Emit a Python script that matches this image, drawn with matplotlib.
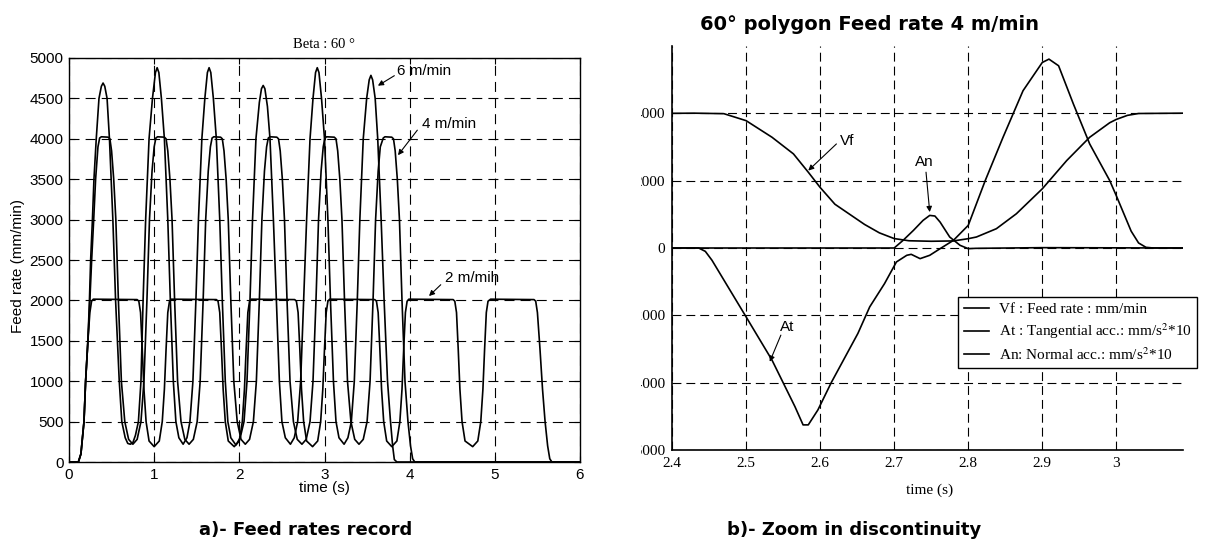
import matplotlib
matplotlib.use('Agg')
import matplotlib.pyplot as plt
from matplotlib.transforms import Bbox, TransformedBbox

# a) feed rate records (time s, feed rate mm/min)
t_6 = [0.0, 0.11, 0.14, 0.176, 0.195, 0.222, 0.24, 0.254, 0.275, 0.293, 0.32, 0.352, 0.38, 0.40, 0.42,
       0.447, 0.475, 0.515, 0.547, 0.59, 0.62, 0.66, 0.69, 0.72, 0.75,
       0.78, 0.815, 0.845, 0.87, 0.90, 0.94, 0.98, 1.015, 1.035, 1.055,
       1.085, 1.12, 1.16, 1.19, 1.225, 1.255, 1.29, 1.34,
       1.385, 1.42, 1.455, 1.49, 1.52, 1.56, 1.595, 1.625, 1.645, 1.665,
       1.695, 1.73, 1.77, 1.80, 1.835, 1.865, 1.90, 1.96,
       2.01, 2.055, 2.09, 2.125, 2.155, 2.195, 2.235, 2.26, 2.28, 2.30,
       2.33, 2.36, 2.40, 2.435, 2.47, 2.50, 2.54, 2.60,
       2.645, 2.685, 2.72, 2.755, 2.79, 2.83, 2.865, 2.895, 2.915, 2.935,
       2.965, 3.0, 3.04, 3.07, 3.105, 3.135, 3.17, 3.23,
       3.275, 3.315, 3.35, 3.385, 3.415, 3.455, 3.495, 3.525, 3.545, 3.565,
       3.595, 3.625, 3.665, 3.70, 3.74, 3.775, 3.80, 3.82, 3.85, 6.0]
v_6 = [0, 0, 100, 500, 1000, 1500, 2000, 2500, 3000, 3500, 4000, 4500, 4650, 4690, 4650,
       4500, 4000, 3000, 2000, 1000, 500, 300, 230, 220, 240,
       330, 500, 1000, 2000, 3000, 4000, 4500, 4820, 4880, 4820,
       4500, 4000, 3000, 2000, 1000, 500, 300, 220,
       300, 500, 1000, 2000, 3000, 4000, 4500, 4820, 4880, 4820,
       4500, 4000, 3000, 2000, 1000, 500, 300, 210,
       300, 500, 1000, 2000, 3000, 4000, 4450, 4620, 4660, 4620,
       4400, 4000, 3000, 2000, 1000, 500, 300, 220,
       300, 500, 1000, 2000, 3000, 4000, 4500, 4820, 4880, 4820,
       4500, 4000, 3000, 2000, 1000, 500, 300, 220,
       300, 500, 1000, 2000, 3000, 4000, 4500, 4730, 4785, 4730,
       4500, 4000, 3000, 2000, 1000, 500, 200, 30, 0, 0]

t_4 = [0.0, 0.11, 0.14, 0.176, 0.195, 0.222, 0.245, 0.266, 0.29, 0.3125, 0.34, 0.36, 0.38, 0.46, 0.48,
       0.50, 0.525, 0.55, 0.58, 0.615, 0.655, 0.70, 0.75,
       0.80, 0.845, 0.88, 0.915, 0.945, 0.975, 1.0, 1.02, 1.04, 1.12, 1.14,
       1.16, 1.185, 1.21, 1.24, 1.275, 1.315, 1.36, 1.41,
       1.46, 1.505, 1.54, 1.575, 1.605, 1.635, 1.66, 1.68, 1.70, 1.78, 1.80,
       1.82, 1.845, 1.87, 1.90, 1.935, 1.975, 2.02, 2.07,
       2.12, 2.165, 2.20, 2.235, 2.265, 2.295, 2.32, 2.34, 2.36, 2.44, 2.46,
       2.48, 2.505, 2.53, 2.56, 2.595, 2.635, 2.68, 2.735,
       2.785, 2.83, 2.865, 2.90, 2.93, 2.96, 2.985, 3.005, 3.025, 3.115, 3.135,
       3.155, 3.18, 3.205, 3.235, 3.27, 3.31, 3.355, 3.405,
       3.455, 3.50, 3.535, 3.57, 3.60, 3.63, 3.655, 3.69, 3.71, 3.79, 3.81,
       3.83, 3.855, 3.88, 3.91, 3.945, 3.98, 4.01, 4.035, 4.06, 6.0]
v_4 = [0, 0, 100, 500, 1000, 1500, 2000, 2500, 3000, 3500, 3900, 4010, 4025, 4020, 4000,
       3850, 3500, 3000, 2000, 1000, 500, 280, 220,
       280, 500, 1000, 2000, 3000, 3600, 3900, 4010, 4025, 4020, 4000,
       3850, 3500, 3000, 2000, 1000, 500, 280, 220,
       280, 500, 1000, 2000, 3000, 3600, 3900, 4010, 4025, 4020, 4000,
       3850, 3500, 3000, 2000, 1000, 500, 280, 220,
       280, 500, 1000, 2000, 3000, 3600, 3900, 4010, 4025, 4020, 4000,
       3850, 3500, 3000, 2000, 1000, 500, 280, 220,
       280, 500, 1000, 2000, 3000, 3600, 3900, 4010, 4025, 4020, 4000,
       3850, 3500, 3000, 2000, 1000, 500, 280, 220,
       280, 500, 1000, 2000, 3000, 3600, 3900, 4010, 4025, 4020, 4000,
       3850, 3500, 3000, 2000, 1000, 500, 200, 40, 0, 0]

t_2 = [0.0, 0.11, 0.14, 0.176, 0.195, 0.222, 0.245, 0.265, 0.285, 0.80, 0.82,
       0.84, 0.86, 0.88, 0.905, 0.94, 1.0, 1.06, 1.095, 1.12, 1.14, 1.16, 1.18, 1.20, 1.73, 1.75,
       1.77, 1.79, 1.81, 1.835, 1.87, 1.94, 2.0, 2.035, 2.06, 2.08, 2.10, 2.12, 2.14, 2.65, 2.67,
       2.69, 2.71, 2.73, 2.755, 2.79, 2.86, 2.92, 2.955, 2.98, 3.0, 3.02, 3.04, 3.06, 3.59, 3.61,
       3.63, 3.65, 3.67, 3.695, 3.73, 3.79, 3.85, 3.885, 3.91, 3.93, 3.95, 3.97, 3.99, 4.51, 4.53,
       4.55, 4.57, 4.59, 4.615, 4.65, 4.74, 4.80, 4.835, 4.86, 4.88, 4.90, 4.92, 4.95, 5.46, 5.48,
       5.50, 5.53, 5.56, 5.59, 5.62, 5.645, 5.67, 6.0]
v_2 = [0, 0, 100, 500, 1000, 1500, 1850, 1990, 2015, 2010, 1990,
       1850, 1400, 900, 500, 260, 190, 260, 500, 900, 1400, 1850, 1990, 2015, 2010, 1990,
       1850, 1400, 900, 500, 260, 190, 260, 500, 900, 1400, 1850, 1990, 2015, 2010, 1990,
       1850, 1400, 900, 500, 260, 190, 260, 500, 900, 1400, 1850, 1990, 2015, 2010, 1990,
       1850, 1400, 900, 500, 260, 190, 260, 500, 900, 1400, 1850, 1990, 2015, 2010, 1990,
       1850, 1400, 900, 500, 260, 190, 260, 500, 900, 1400, 1850, 1990, 2015, 2010, 1990,
       1850, 1400, 900, 500, 200, 40, 0, 0]

# b) zoom on one corner at 4 m/min
t_vf = [2.40, 2.43, 2.47, 2.50, 2.535, 2.564, 2.584, 2.60, 2.62, 2.64, 2.66, 2.68, 2.70, 2.72, 2.75,
        2.78, 2.80, 2.811, 2.838, 2.865, 2.90, 2.933, 2.964, 2.991, 3.0, 3.015, 3.03, 3.09]
v_vf = [4000, 4005, 3990, 3783, 3290, 2795, 2252, 1800, 1300, 1000, 700, 450, 280, 215, 200,
        210, 277, 326, 573, 1017, 1758, 2598, 3289, 3720, 3820, 3940, 3995, 4005]

t_at = [2.40, 2.436, 2.445, 2.454, 2.50, 2.535, 2.566, 2.577, 2.584, 2.597, 2.615, 2.651, 2.667, 2.687,
        2.703, 2.717, 2.723, 2.735, 2.748, 2.762, 2.78, 2.80, 2.823, 2.847, 2.874, 2.90, 2.909, 2.922,
        2.942, 2.964, 2.991, 3.0, 3.02, 3.03, 3.04, 3.05, 3.09]
v_at = [0, 0, -100, -365, -2044, -3328, -4711, -5254, -5254, -4810, -4000, -2538, -1748, -1057,
        -415, -217, -188, -316, -217, -20, 227, 672, 2005, 3289, 4672, 5511, 5610, 5413,
        4277, 3091, 2005, 1550, 500, 150, 20, 0, 0]

t_an = [2.40, 2.70, 2.712, 2.726, 2.739, 2.748, 2.755, 2.762, 2.775, 2.789, 2.80, 2.81, 2.90, 3.09]
v_an = [0, 0, 227, 523, 820, 968, 950, 770, 326, 79, -20, -10, 10, 0]

xt_b = [2.4, 2.5, 2.6, 2.7, 2.8, 2.9, 3.0]
xt_b_labels = ['2.4', '2.5', '2.6', '2.7', '2.8', '2.9', '3']
yt_b = [-6000, -4000, -2000, 0, 2000, 4000]

sans = ['Liberation Sans', 'DejaVu Sans']
serif = ['Liberation Serif', 'DejaVu Serif']
plt.rcParams['mathtext.fontset'] = 'stix'

fig = plt.figure(figsize=(12.06, 5.48), dpi=100)
W, H = 1206.0, 548.0

# ---- left panel
ax1 = fig.add_axes([69 / W, (H - 462) / H, 511 / W, 404 / H])
for t, v in [(t_2, v_2), (t_4, v_4), (t_6, v_6)]:
    ax1.plot(t, v, color='k', lw=1.2)
ax1.set_xlim(0, 6)
ax1.set_ylim(0, 5000)
ax1.set_xticks(range(0, 7))
ax1.set_yticks(range(0, 5001, 500))
ax1.grid(True, color='k', lw=0.8, linestyle=(0, (9, 5.5)))
ax1.tick_params(direction='in', length=4, top=True, right=True, pad=4, labelsize=11)
for lab in ax1.get_xticklabels() + ax1.get_yticklabels():
    lab.set_family(sans)
for s in ax1.spines.values():
    s.set_linewidth(1.0)

arrow = dict(arrowstyle='-|>', color='k', lw=0.8, mutation_scale=8, shrinkA=0, shrinkB=0)
ax1.annotate('', xy=(3.627, 4657), xytext=(3.82, 4781), arrowprops=arrow)
ax1.text(3.847, 4838, '6 m/min', family=sans, fontsize=11, va='center')
ax1.annotate('', xy=(3.863, 3797), xytext=(4.09, 4107), arrowprops=arrow)
ax1.text(4.149, 4181, '4 m/min', family=sans, fontsize=11, va='center')
ax1.annotate('', xy=(4.227, 2054), xytext=(4.365, 2194), arrowprops=arrow)
ax1.text(4.41, 2277, '2 m/mih', family=sans, fontsize=11, va='center')

fig.text(324 / W, (H - 45) / H, 'Beta : 60 °', family=serif, fontsize=10.5, ha='center', va='center')
fig.text(324 / W, (H - 488) / H, 'time (s)', family=sans, fontsize=11, ha='center', va='center')
fig.text(18 / W, (H - 266) / H, 'Feed rate (mm/min)', family=sans, fontsize=11,
         ha='center', va='center', rotation=90)
fig.text(306 / W, (H - 530) / H, 'a)- Feed rates record', family=['DejaVu Sans'],
         fontweight='bold', fontsize=13, ha='center', va='center')

# ---- right panel
ax2 = fig.add_axes([672 / W, (H - 450) / H, 511 / W, 404 / H])
ax2.plot(t_vf, v_vf, color='k', lw=1.2, label='Vf : Feed rate : mm/min')
ax2.plot(t_at, v_at, color='k', lw=1.2, label=r'At : Tangential acc.: mm/s$^2$*10')
ax2.plot(t_an, v_an, color='k', lw=1.2, label=r'An: Normal acc.: mm/s$^2$*10')
ax2.set_xlim(2.4, 3.09)
ax2.set_ylim(-6000, 6000)
ax2.set_xticks(xt_b)
ax2.set_xticklabels(xt_b_labels)
ax2.set_yticks(yt_b)
ax2.grid(True, color='k', lw=0.8, linestyle=(0, (8, 4.5)))
ax2.tick_params(length=0, pad=5, labelsize=11)
for lab in ax2.get_xticklabels() + ax2.get_yticklabels():
    lab.set_family(serif)
ax2.spines['top'].set_visible(False)
ax2.spines['right'].set_visible(False)
ax2.spines['left'].set_linewidth(1.2)
ax2.spines['bottom'].set_linewidth(1.2)

leg = ax2.legend(loc='upper left', bbox_to_anchor=(0.56, 0.379), prop={'family': serif, 'size': 11},
                 frameon=True, fancybox=False, framealpha=1, edgecolor='k', borderpad=0.35,
                 labelspacing=0.35, handlelength=1.7, handletextpad=0.6, borderaxespad=0)
leg.get_frame().set_linewidth(1.0)

ax2.annotate('', xy=(2.584, 2300), xytext=(2.622, 3091), arrowprops=arrow)
ax2.text(2.627, 3190, 'Vf', family=sans, fontsize=11, va='center')
ax2.annotate('', xy=(2.748, 1067), xytext=(2.743, 2252), arrowprops=arrow)
ax2.text(2.741, 2548, 'An', family=sans, fontsize=11, ha='center', va='center')
ax2.annotate('', xy=(2.532, -3378), xytext=(2.547, -2588), arrowprops=arrow)
ax2.text(2.555, -2341, 'At', family=sans, fontsize=11, ha='center', va='center')

fig.text(930 / W, (H - 490) / H, 'time (s)', family=serif, fontsize=11, ha='center', va='center')
fig.text(869 / W, (H - 25) / H, '60° polygon Feed rate 4 m/min', family=['DejaVu Sans'],
         fontweight='bold', fontsize=14, ha='center', va='center')
fig.text(854 / W, (H - 530) / H, 'b)- Zoom in discontinuity', family=['DejaVu Sans'],
         fontweight='bold', fontsize=13, ha='center', va='center')

# the y labels of panel b are cut on the left in the source figure
fig.canvas.draw()
cut = TransformedBbox(Bbox.from_extents(641 / W, 0, 1, 1), fig.transFigure)
for lab in ax2.yaxis.get_ticklabels():
    lab.set_clip_box(cut)
    lab.set_clip_on(True)

fig.savefig('out.png', dpi=100)
